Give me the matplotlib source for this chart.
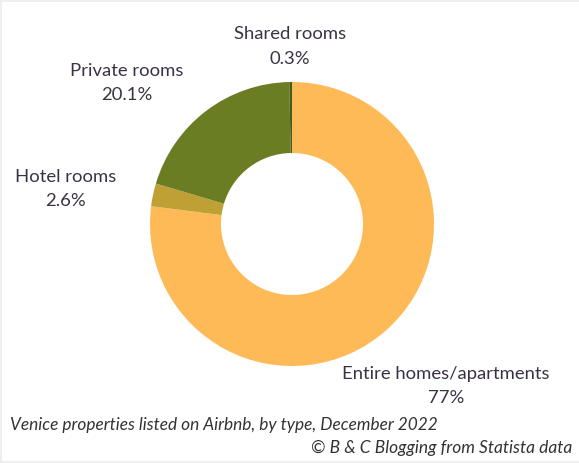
import matplotlib.pyplot as plt
from matplotlib.patches import Rectangle

# data
kategorien = ["Entire homes/apartments", "Hotel rooms", "Private rooms", "Shared rooms"]
anteile = [77.0, 2.6, 20.1, 0.3]
anteil_texte = ["77%", "2.6%", "20.1%", "0.3%"]
farben = ["#FDBA57", "#BFA035", "#6B7D23", "#4A5A1A"]

W, H = 579, 464
fig = plt.figure(figsize=(W / 100, H / 100), dpi=100, facecolor="#eeeeee")
ax = fig.add_axes([0, 0, 1, 1])

# white card with thin grey frame
ax.add_patch(Rectangle((2, 3), W - 2, H - 5, facecolor="white", edgecolor="none", zorder=0))

# donut (y axis inverted -> counterclock=True runs clockwise on screen)
ax.pie(anteile, colors=farben, startangle=-90, counterclock=True,
       center=(292, 225), radius=142, frame=True,
       wedgeprops=dict(width=71, linewidth=0))
ax.set_xlim(0, W)
ax.set_ylim(H, 0)
ax.axis("off")

txt_farbe = "#3b3145"
schrift = "Lato"
label_pos = {
    "Shared rooms": (290, 34),
    "Private rooms": (127, 71),
    "Hotel rooms": (66, 177),
    "Entire homes/apartments": (446, 374),
}
for name, wert in zip(kategorien, anteil_texte):
    x, y = label_pos[name]
    ax.text(x, y, name, ha="center", va="center", fontsize=13.3, color=txt_farbe, family=schrift)
    ax.text(x, y + 24.5, wert, ha="center", va="center", fontsize=13.3, color=txt_farbe, family=schrift)

ax.text(10, 425, "Venice properties listed on Airbnb, by type, December 2022", ha="left", va="center",
        fontsize=12.4, style="italic", color="#333333", family=schrift)
ax.text(572, 448, "© B & C Blogging from Statista data", ha="right", va="center",
        fontsize=12.5, style="italic", color="#333333", family=schrift)

fig.savefig("out.png", dpi=100, facecolor=fig.get_facecolor())
